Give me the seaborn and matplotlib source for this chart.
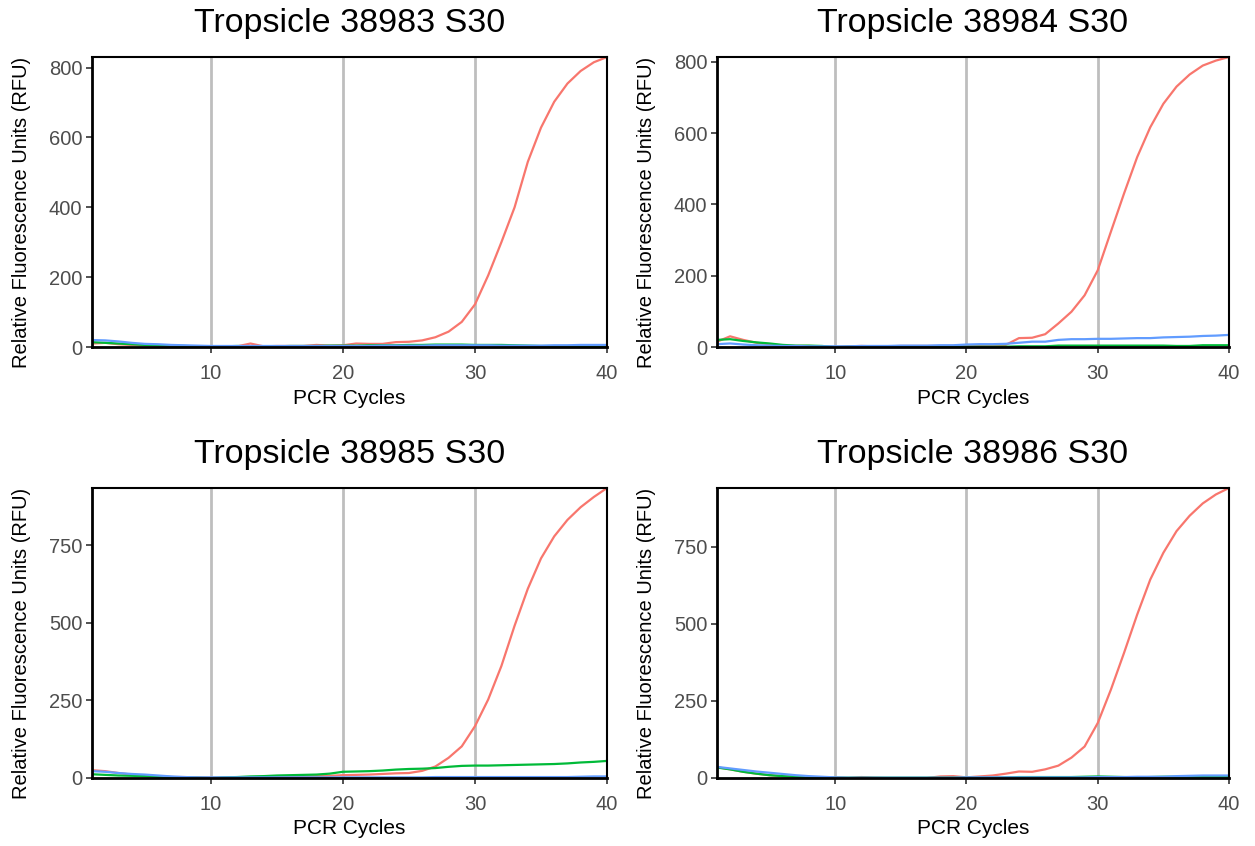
import numpy as np
import pandas as pd
import matplotlib
matplotlib.use("Agg")
import matplotlib.pyplot as plt
import seaborn as sns

cycles = list(range(1, 41))

titles = ["Tropsicle 38983 S30", "Tropsicle 38984 S30",
          "Tropsicle 38985 S30", "Tropsicle 38986 S30"]

red1 = [10, 12, 8, 6, 5, 4, 3, 2, 1, 0, 1, 2, 10, 2, 3, 3, 3, 6, 4, 5,
        10, 9, 9, 14, 15, 19, 28, 44, 72, 122, 205, 300, 400, 530, 628, 702, 754, 790, 815, 830]
green1 = [14, 12, 10, 8, 6, 5, 4, 3, 2, 1, 2, 3, 2, 2, 2, 3, 3, 3, 4, 4,
          4, 5, 5, 5, 6, 6, 7, 7, 7, 6, 6, 6, 5, 4, 3, 3, 3, 3, 3, 3]
blue1 = [20, 19, 16, 12, 9, 8, 6, 5, 4, 3, 3, 3, 3, 3, 3, 3, 3, 3, 3, 3,
         3, 3, 4, 4, 4, 4, 5, 5, 5, 5, 5, 4, 4, 4, 4, 5, 5, 6, 6, 6]

red2 = [15, 30, 20, 12, 8, 4, 3, 3, 2, 0, 2, 3, 2, 2, 3, 3, 3, 3, 3, 4,
        5, 5, 6, 25, 26, 36, 66, 99, 145, 215, 323, 430, 532, 616, 682, 730, 764, 789, 803, 813]
green2 = [20, 22, 17, 13, 10, 6, 4, 4, 3, 0, 1, 1, 1, 1, 1, 1, 1, 1, 1, 1,
          1, 1, 1, 2, 2, 2, 4, 4, 4, 4, 4, 4, 4, 4, 4, 3, 3, 5, 5, 5]
blue2 = [8, 10, 7, 5, 4, 3, 3, 2, 2, 2, 2, 3, 3, 3, 4, 4, 4, 5, 5, 7,
         8, 8, 9, 12, 15, 15, 20, 22, 22, 23, 23, 24, 25, 25, 27, 28, 29, 31, 32, 34]

red3 = [25, 22, 16, 11, 7, 5, 3, 3, 2, 1, 1, 2, 2, 3, 3, 4, 5, 6, 7, 9,
        10, 11, 13, 15, 16, 23, 37, 65, 102, 167, 253, 361, 491, 610, 708, 779, 832, 873, 906, 935]
green3 = [12, 10, 8, 7, 6, 4, 3, 2, 1, 0, 2, 3, 5, 6, 8, 9, 10, 11, 14, 20,
          21, 22, 24, 27, 29, 30, 32, 36, 39, 40, 40, 41, 42, 43, 44, 45, 47, 50, 52, 55]
blue3 = [22, 20, 16, 13, 11, 8, 5, 3, 2, 2, 2, 2, 2, 2, 2, 2, 2, 2, 2, 2,
         2, 2, 2, 2, 2, 2, 3, 3, 3, 3, 3, 3, 3, 3, 3, 3, 3, 4, 5, 5]

red4 = [35, 28, 20, 14, 9, 6, 4, 3, 2, 2, 0, 3, 1, 0, 0, 0, 0, 5, 6, 2,
        5, 8, 14, 21, 20, 28, 40, 66, 102, 178, 286, 405, 529, 643, 730, 800, 850, 890, 919, 940]
green4 = [34, 28, 20, 14, 9, 6, 4, 3, 2, 1, 1, 1, 1, 1, 1, 1, 1, 1, 1, 1,
          1, 1, 2, 3, 3, 3, 3, 3, 4, 5, 4, 3, 2, 3, 4, 4, 4, 4, 4, 4]
blue4 = [36, 31, 26, 21, 17, 13, 9, 6, 4, 2, 1, 1, 1, 1, 1, 1, 1, 1, 1, 2,
         2, 2, 2, 2, 2, 2, 2, 2, 2, 3, 3, 3, 4, 4, 4, 6, 7, 8, 8, 8]

yticks_top = [0, 200, 400, 600, 800]
yticks_bottom = [0, 250, 500, 750]
xticks = [10, 20, 30, 40]

channels = ["FAM", "HEX", "Cy5"]
palette = {"FAM": "#F8766D", "HEX": "#00BA38", "Cy5": "#619CFF"}

panels = [(red1, green1, blue1), (red2, green2, blue2),
          (red3, green3, blue3), (red4, green4, blue4)]
yticks_list = [yticks_top, yticks_top, yticks_bottom, yticks_bottom]

sns.set_style("white")
plt.rcParams["font.family"] = ["Liberation Sans", "DejaVu Sans"]

fig = plt.figure(figsize=(12.55, 8.46), dpi=100)
positions = [
    [0.0733, 0.5898, 0.4104, 0.3428],
    [0.5713, 0.5898, 0.4080, 0.3428],
    [0.0733, 0.0804, 0.4104, 0.3428],
    [0.5713, 0.0804, 0.4080, 0.3428],
]

for i, (title, series, yt) in enumerate(zip(titles, panels, yticks_list)):
    ax = fig.add_axes(positions[i])
    rows = []
    for ch, vals in zip(channels, series):
        for c, v in zip(cycles, vals):
            rows.append({"Cycle": c, "RFU": v, "Channel": ch})
    df = pd.DataFrame(rows)
    for xv in xticks:
        ax.axvline(xv, color="#BEBEBE", lw=2.0, zorder=1)
    sns.lineplot(data=df, x="Cycle", y="RFU", hue="Channel", hue_order=channels,
                 palette=palette, lw=1.6, ax=ax, legend=False, zorder=3)
    ymax = max(max(s) for s in series)
    ax.set_xlim(1, 40)
    ax.set_ylim(0, ymax)
    ax.set_xticks(xticks)
    ax.set_yticks(yt)
    ax.tick_params(axis="both", which="both", direction="out", length=4, width=1.2,
                   color="#333333", labelsize=14.5, labelcolor="#4D4D4D",
                   bottom=True, left=True)
    ax.tick_params(axis="x", pad=8)
    ax.tick_params(axis="y", pad=3)
    for side, sp in ax.spines.items():
        sp.set_visible(True)
        sp.set_color("black")
        sp.set_linewidth(2.0 if side in ("left", "bottom") else 1.5)
        sp.set_zorder(5)
    pos = positions[i]
    ax_h_px = pos[3] * 846
    ax_w_px = pos[2] * 1255
    ax.set_xlabel("PCR Cycles", fontsize=15, color="black")
    ax.xaxis.label.set_va("center")
    ax.xaxis.set_label_coords(0.5, -51 / ax_h_px)
    ax.set_ylabel("Relative Fluorescence Units (RFU)", fontsize=14.5, color="black")
    ax.yaxis.label.set_va("center")
    ax.yaxis.set_label_coords(-70 / ax_w_px, 0.5 - 10 / ax_h_px)
    ax.set_title(title, fontsize=24.5, color="black", pad=18)

fig.savefig("out.png", dpi=100, facecolor="white")
